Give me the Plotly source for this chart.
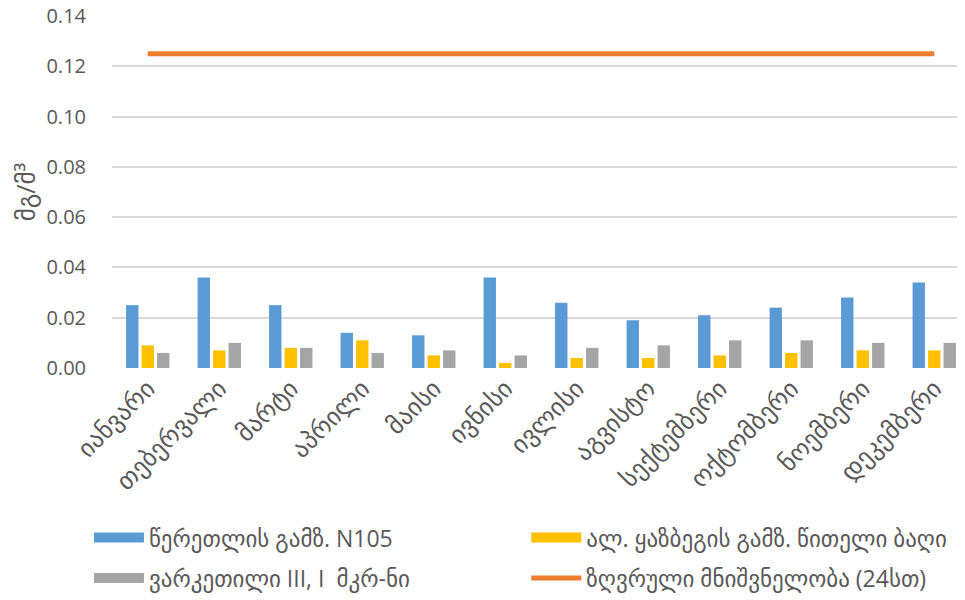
import plotly.graph_objects as go

months = ["იანვარი", "თებერვალი", "მარტი", "აპრილი", "მაისი", "ივნისი",
          "ივლისი", "აგვისტო", "სექტემბერი", "ოქტომბერი", "ნოემბერი", "დეკემბერი"]
tsereteli = [0.025, 0.036, 0.025, 0.014, 0.013, 0.036, 0.026, 0.019, 0.021, 0.024, 0.028, 0.034]
kazbegi = [0.009, 0.007, 0.008, 0.011, 0.005, 0.002, 0.004, 0.004, 0.005, 0.006, 0.007, 0.007]
varketili = [0.006, 0.010, 0.008, 0.006, 0.007, 0.005, 0.008, 0.009, 0.011, 0.011, 0.010, 0.010]
limit = [0.125] * 12

names = ["წერეთლის გამზ. N105", "ალ. ყაზბეგის გამზ. წითელი ბაღი",
         "ვარკეთილი III, I  მკრ-ნი", "ზღვრული მნიშვნელობა (24სთ)"]
colors = ["#5B9BD5", "#FFC000", "#A5A5A5", "#ED7D31"]
ytickvals = [0, 0.02, 0.04, 0.06, 0.08, 0.10, 0.12, 0.14]

FONT = "Open Sans, DejaVu Sans, sans-serif"
TXT = "#595959"

fig = go.Figure()
for vals, name, col in zip([tsereteli, kazbegi, varketili], names[:3], colors[:3]):
    fig.add_trace(go.Bar(x=months, y=vals, name=name, marker=dict(color=col, line=dict(width=0)),
                         showlegend=False))
fig.add_trace(go.Scatter(x=months, y=limit, mode="lines", name=names[3],
                         line=dict(color=colors[3], width=5), showlegend=False))

# legend entries, one legend box each (2 x 2 layout)
legend_ids = ["legend", "legend2", "legend3", "legend4"]
widths = [14, 14, 14, 5]
for name, col, lg, w in zip(names, colors, legend_ids, widths):
    fig.add_trace(go.Scatter(x=[None], y=[None], mode="lines", name=name,
                             line=dict(color=col, width=w), legend=lg, showlegend=True,
                             hoverinfo="skip"))

leg_common = dict(orientation="h", xanchor="left", yanchor="middle", itemwidth=50,
                  font=dict(size=23, color=TXT), bgcolor="rgba(0,0,0,0)")
col_x = [-0.027, 0.4857]
row_y = [-0.482, -0.597]

fig.update_layout(
    width=957, height=592,
    margin=dict(l=104, r=0, t=8, b=230),
    paper_bgcolor="white", plot_bgcolor="white",
    font=dict(family=FONT, color=TXT, size=20),
    barmode="group", bargap=0.35, bargroupgap=0.2,
    legend=dict(x=col_x[0], y=row_y[0], **leg_common),
    legend2=dict(x=col_x[1], y=row_y[0], **leg_common),
    legend3=dict(x=col_x[0], y=row_y[1], **leg_common),
    legend4=dict(x=col_x[1], y=row_y[1], **leg_common),
    xaxis=dict(range=[-0.5, 11.43], tickangle=-45, showgrid=False, zeroline=False,
               showline=False, ticks="", automargin=False,
               tickfont=dict(size=25, color=TXT)),
    yaxis=dict(range=[0, 0.14], tickvals=ytickvals, tickformat=".2f",
               showgrid=True, gridcolor="#D9D9D9", gridwidth=2, zeroline=False,
               showline=False, ticks="", ticklabelstandoff=25, ticklabeloverflow="allow",
               automargin=False, tickfont=dict(size=20, color=TXT),
               title=dict(text="მგ/მ³", font=dict(size=25, color=TXT), standoff=16)),
)

fig.write_html("out.html")
